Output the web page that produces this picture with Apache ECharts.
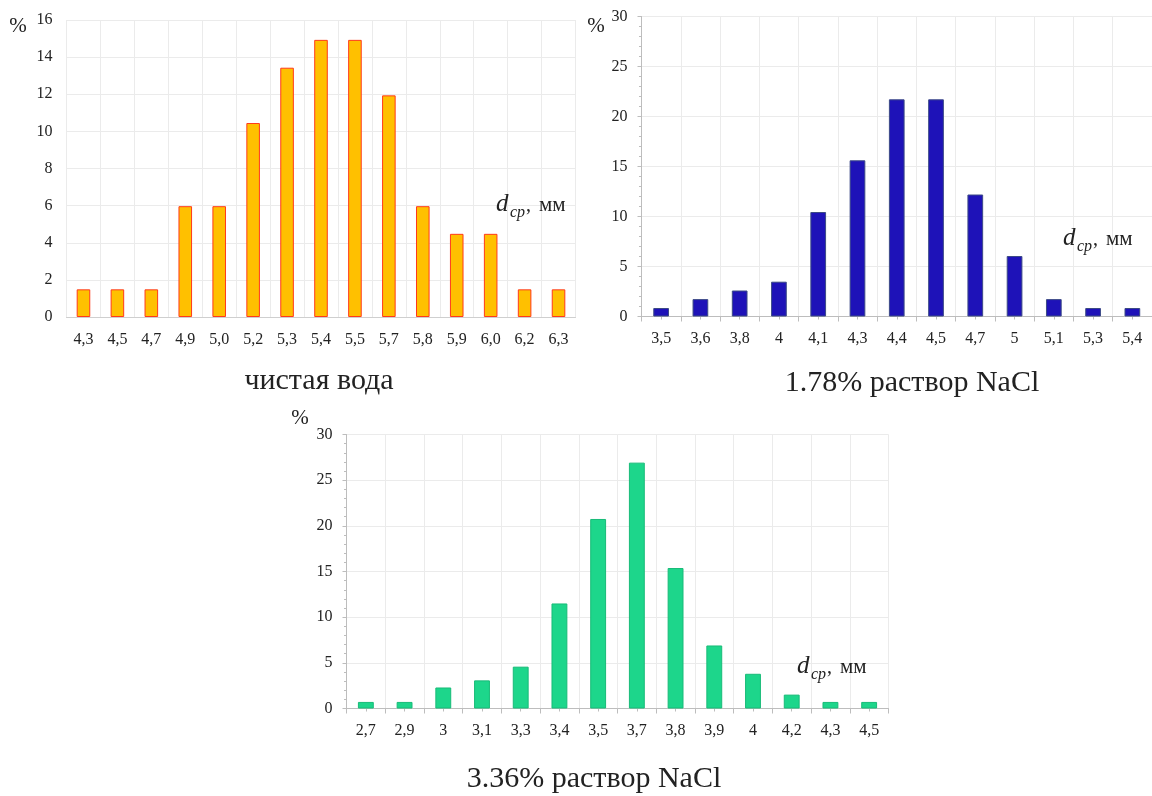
<!DOCTYPE html>
<html>
<head>
<meta charset="utf-8">
<style>
html,body{margin:0;padding:0;background:#fff;}
#c{width:1152px;height:796px;}
</style>
<script src="https://cdn.jsdelivr.net/npm/echarts@6/dist/echarts.min.js"></script>
</head>
<body>
<div id="c"></div>
<script>
// ---- data ----
const cats1 = ['4,3','4,5','4,7','4,9','5,0','5,2','5,3','5,4','5,5','5,7','5,8','5,9','6,0','6,2','6,3'];
const vals1 = [1.49,1.49,1.49,5.97,5.97,10.45,13.43,14.93,14.93,11.94,5.97,4.48,4.48,1.49,1.49];

const cats2 = ['3,5','3,6','3,8','4','4,1','4,3','4,4','4,5','4,7','5','5,1','5,3','5,4'];
const vals2 = [0.85,1.74,2.6,3.48,10.45,15.62,21.72,21.72,12.2,6.05,1.74,0.85,0.85];

const cats3 = ['2,7','2,9','3','3,1','3,3','3,4','3,5','3,7','3,8','3,9','4','4,2','4,3','4,5'];
const vals3 = [0.72,0.72,2.3,3.08,4.58,11.5,20.75,26.92,15.38,6.9,3.8,1.52,0.72,0.72];

const titles = ['чистая вода','1.78% раствор NaCl','3.36% раствор NaCl'];
const yUnit = '%';
const xUnitVar = 'd', xUnitSub = 'cp', xUnitComma = ',', xUnitText = 'мм';

// ---- styling ----
const FONT = 'Liberation Serif';
const TXT = '#222';
const GRID_C = '#ebebeb';
const AXIS_C = '#bdbdbd';

const chart = echarts.init(document.getElementById('c'), null, {renderer:'canvas'});

function catAxis(gi, data, ticks) {
  return {
    type:'category', gridIndex:gi, data:data, boundaryGap:true,
    axisLine:{show:true, lineStyle:{color: ticks ? AXIS_C : '#cfcfcf', width:1}},
    axisTick:{show:ticks, length:5, alignWithLabel:false, lineStyle:{color:AXIS_C}},
    axisLabel:{margin: ticks ? 14 : 15, fontFamily:FONT, fontSize:16, color:TXT, interval:0},
    splitLine:{show:true, lineStyle:{color:GRID_C}}
  };
}
function centerTickAxis(gi, data) {
  return {
    type:'category', gridIndex:gi, data:data, boundaryGap:true, position:'bottom',
    axisLine:{show:false}, axisLabel:{show:false}, splitLine:{show:false},
    axisTick:{show:true, length:3, alignWithLabel:true, interval:0, lineStyle:{color:AXIS_C}}
  };
}
function valAxis(gi, max, interval, ticks) {
  return {
    type:'value', gridIndex:gi, min:0, max:max, interval:interval,
    axisLine:{show:ticks, lineStyle:{color:AXIS_C}},
    axisTick:{show:ticks, length:4, lineStyle:{color:AXIS_C}},
    minorTick:{show:ticks, splitNumber:5, length:2.5, lineStyle:{color:AXIS_C}},
    axisLabel:{margin:14, fontFamily:FONT, fontSize:16, color:TXT},
    splitLine:{show:true, lineStyle:{color:GRID_C}}
  };
}

function txt(x, y, s, size, italic, align, va) {
  return {type:'text', x:x, y:y, z:100,
    style:{text:s, fontFamily:FONT, fontSize:size, fontStyle: italic ? 'italic' : 'normal',
           fill:TXT, align:align || 'left', verticalAlign:va || 'bottom'}};
}
// x-axis unit label "d_cp, мм" anchored at left x0 and text baseline b
function unitLabel(x0, b) {
  return [
    txt(x0, b + 5, xUnitVar, 25, true),
    txt(x0 + 14, b + 9, xUnitSub, 16, true),
    txt(x0 + 30, b + 4, xUnitComma, 20, false),
    txt(x0 + 43, b + 4, xUnitText, 21, false)
  ];
}

const option = {
  backgroundColor:'#fff',
  animation:false,
  grid:[
    {left:66.5, top:20, width:509, height:297},
    {left:641.5, top:16.5, width:520, height:300},
    {left:346.5, top:434.5, width:542, height:274}
  ],
  xAxis:[
    catAxis(0, cats1, false),
    catAxis(1, cats2, true),
    catAxis(2, cats3, true),
    centerTickAxis(1, cats2),
    centerTickAxis(2, cats3)
  ],
  yAxis:[
    valAxis(0, 16, 2, false),
    valAxis(1, 30, 5, true),
    valAxis(2, 30, 5, true)
  ],
  series:[
    {type:'bar', xAxisIndex:0, yAxisIndex:0, data:vals1, barWidth:'40%',
     itemStyle:{color:'#ffc000', borderColor:'#ff3a1a', borderWidth:1}},
    {type:'bar', xAxisIndex:1, yAxisIndex:1, data:vals2, barWidth:'40%',
     itemStyle:{color:'#1e12b8', borderColor:'#3c4a86', borderWidth:1}},
    {type:'bar', xAxisIndex:2, yAxisIndex:2, data:vals3, barWidth:'41%',
     itemStyle:{color:'#1dd68b', borderColor:'#18bb78', borderWidth:1}}
  ],
  graphic:[
    txt(18, 26, yUnit, 21, false, 'center', 'middle'),
    txt(596, 26, yUnit, 21, false, 'center', 'middle'),
    txt(300, 418, yUnit, 21, false, 'center', 'middle'),
    txt(319, 381, titles[0], 30, false, 'center', 'middle'),
    txt(912, 383, titles[1], 30, false, 'center', 'middle'),
    txt(594, 779, titles[2], 30, false, 'center', 'middle')
  ].concat(unitLabel(496, 212), unitLabel(1063, 246), unitLabel(797, 674))
};
chart.setOption(option);
</script>
</body>
</html>
